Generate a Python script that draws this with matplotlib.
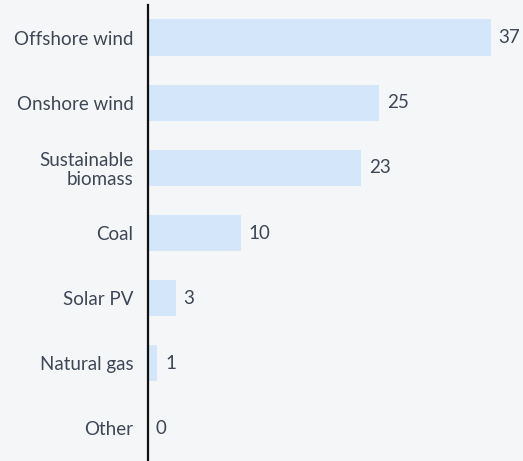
import matplotlib.pyplot as plt

categories = ['Offshore wind', 'Onshore wind', 'Sustainable\nbiomass', 'Coal',
              'Solar PV', 'Natural gas', 'Other']
values = [37, 25, 23, 10, 3, 1, 0]

bg = '#f5f6f8'
bar_color = '#d3e6fa'
text_color = '#3d4755'

plt.rcParams['font.family'] = ['Lato', 'DejaVu Sans']

fig = plt.figure(figsize=(5.23, 4.61), dpi=100, facecolor=bg)
ax = fig.add_axes([148 / 523, 0, 375 / 523, 456 / 461], facecolor=bg)

y = list(range(len(categories)))
ax.barh(y, values, height=0.555, color=bar_color)

for yi, v in zip(y, values):
    ax.text(v + 0.85, yi, str(v), va='center', ha='left', fontsize=13.5,
            color=text_color)

ax.set_yticks(y)
ax.set_yticklabels(categories, fontsize=13.5, color=text_color, ha='right',
                   linespacing=1.1)
ax.tick_params(axis='y', length=0, pad=10.5)
ax.set_xticks([])
ax.set_xlim(0, 40.5)
ax.set_ylim(6.5, -0.5)

for side in ['top', 'right', 'bottom']:
    ax.spines[side].set_visible(False)
ax.spines['left'].set_color('#111111')
ax.spines['left'].set_linewidth(1.6)

fig.savefig('out.png', dpi=100, facecolor=bg)
